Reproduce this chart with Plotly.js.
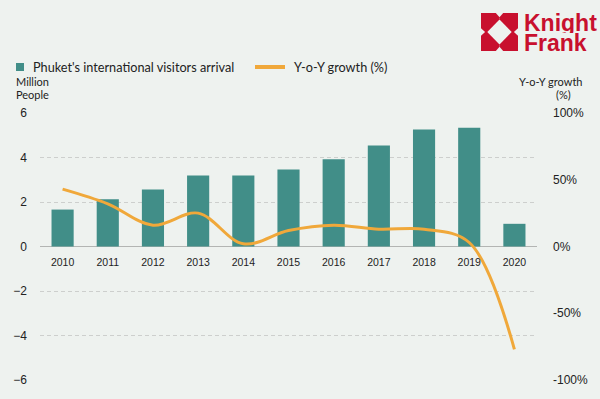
<!DOCTYPE html>
<html>
<head>
<meta charset="utf-8">
<script src="https://cdn.plot.ly/plotly-3.0.1.min.js"></script>
<style>
html,body{margin:0;padding:0;background:#eef2ef;}
#chart{width:600px;height:399px;}
</style>
</head>
<body>
<div id="chart"></div>
<script>
const years = ['2010','2011','2012','2013','2014','2015','2016','2017','2018','2019','2020'];
const arrivals = [1.66, 2.12, 2.56, 3.19, 3.19, 3.46, 3.92, 4.54, 5.26, 5.34, 1.02];
const growth = [43, 32, 16, 25, 2, 12, 16, 13, 13, 3, -77];
const leftTicks = [-6, -4, -2, 0, 2, 4, 6];
const rightTicks = [-100, -50, 0, 50, 100];
const rightTickText = ['-100%', '-50%', '0%', '50%', '100%'];
const barName = "Phuket's international visitors arrival";
const lineName = 'Y-o-Y growth (%)';

const W = 600, H = 399;
const M = {l: 40, r: 63, t: 113, b: 19};
const PW = W - M.l - M.r, PH = H - M.t - M.b;
const px = x => (x - M.l) / PW;
const py = y => (H - M.b - y) / PH;

const BAR = '#418e88', LINE = '#f0a83a', RED = '#c8102e', BG = '#eef2ef';

const bars = {
  type: 'bar', x: years, y: arrivals, name: barName,
  marker: {color: BAR}, yaxis: 'y', hoverinfo: 'x+y'
};
const line = {
  type: 'scatter', mode: 'lines', x: years, y: growth, name: lineName,
  line: {color: LINE, width: 3, shape: 'spline', smoothing: 1}, yaxis: 'y2'
};

// Knight Frank logo icon (unit square polygons -> pixels)
const ix0 = 481, iy0 = 13, iw = 37, ih = 38;
const pieceTL = [[0,0],[0.40,0],[0.5,0.11],[0.5,0.17],[0.17,0.5],[0.11,0.5],[0,0.40]];
function transformPiece(p, fx, fy) {
  return p.map(([u,v]) => [fx ? 1-u : u, fy ? 1-v : v]);
}
function pathFrom(p) {
  return 'M ' + p.map(([u,v]) => px(ix0 + u*iw).toFixed(5) + ',' + py(iy0 + v*ih).toFixed(5)).join(' L ') + ' Z';
}
const logoShapes = [[false,false],[true,false],[false,true],[true,true]].map(([fx,fy]) => ({
  type: 'path', xref: 'paper', yref: 'paper', path: pathFrom(transformPiece(pieceTL, fx, fy)),
  fillcolor: RED, line: {width: 0}
}));

const legendShapes = [
  {type:'rect', xref:'paper', yref:'paper', x0: px(16), x1: px(24), y0: py(71), y1: py(63), fillcolor: BAR, line:{width:0}},
  {type:'line', xref:'paper', yref:'paper', x0: px(255), x1: px(285), y0: py(67), y1: py(67), line:{color: LINE, width: 4}}
];

const txtFont = {family: 'Lato, "Noto Sans", sans-serif', color: '#222', size: 12.7};
const smallFont = {family: 'Lato, "Noto Sans", sans-serif', color: '#222', size: 11};
const logoFont = {family: '"Liberation Sans Narrow", "Arial Narrow", "Liberation Sans", sans-serif', size: 23, color: RED};
const annotations = [
  {text: barName, x: px(32), y: py(67), xanchor:'left', yanchor:'middle', font: txtFont},
  {text: lineName, x: px(293), y: py(67), xanchor:'left', yanchor:'middle', font: txtFont},
  {text: 'Million', x: px(15), y: py(82), xanchor:'left', yanchor:'middle', font: smallFont},
  {text: 'People', x: px(15), y: py(94), xanchor:'left', yanchor:'middle', font: smallFont},
  {text: 'Y-o-Y growth', x: px(583), y: py(82), xanchor:'right', yanchor:'middle', font: smallFont},
  {text: '(%)', x: px(572), y: py(94), xanchor:'right', yanchor:'middle', font: smallFont},
  {text: '<b>Knight</b>', x: px(523), y: py(23.5), xanchor:'left', yanchor:'middle', height: 20, font: logoFont},
  {text: '<b>Frank</b>', x: px(523), y: py(43.5), xanchor:'left', yanchor:'middle', height: 20, font: logoFont}
].map(a => Object.assign({xref:'paper', yref:'paper', showarrow:false, borderpad:0}, a));

const layout = {
  width: W, height: H,
  margin: M,
  paper_bgcolor: BG, plot_bgcolor: BG,
  showlegend: false,
  bargap: 0.51,
  font: {family: '"Liberation Sans", Arial, sans-serif', color: '#222'},
  xaxis: {
    type: 'category', anchor: 'free', position: 0.5,
    showgrid: false, showline: false, zeroline: false, ticks: '',
    tickfont: {size: 10.5, color: '#222'}, ticklabelstandoff: 8
  },
  yaxis: {
    range: [-6, 6], tickvals: leftTicks, ticks: '',
    showgrid: true, gridcolor: '#cdcfcd', griddash: '4px,3px', gridwidth: 1,
    zeroline: true, zerolinecolor: '#b3b5b3', zerolinewidth: 1.5,
    tickfont: {size: 12, color: '#222'}, ticklabelstandoff: 12
  },
  yaxis2: {
    range: [-100, 100], overlaying: 'y', side: 'right',
    tickvals: rightTicks, ticktext: rightTickText, ticks: '',
    showgrid: false, zeroline: false,
    tickfont: {size: 12, color: '#222'}, ticklabelstandoff: 15
  },
  shapes: logoShapes.concat(legendShapes),
  annotations: annotations
};

Plotly.newPlot('chart', [bars, line], layout, {displayModeBar: false, staticPlot: true});
</script>
</body>
</html>
